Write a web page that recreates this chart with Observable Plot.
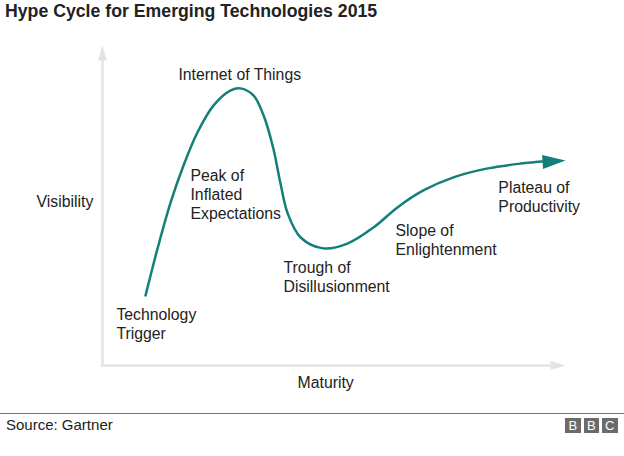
<!DOCTYPE html>
<html>
<head>
<meta charset="utf-8">
<script src="https://cdn.jsdelivr.net/npm/d3@7"></script>
<script src="https://cdn.jsdelivr.net/npm/@observablehq/plot@0.6"></script>
<style>
  html, body { margin: 0; padding: 0; background: #fff; }
  #page { position: relative; width: 624px; height: 456px; overflow: hidden; font-family: "Liberation Sans", Arial, Helvetica, sans-serif; }
  #title { position: absolute; left: 5px; top: 1px; font-size: 17.7px; line-height: 20px; font-weight: bold; color: #222; white-space: nowrap; }
  #chart { position: absolute; left: 0; top: 30px; }
  #rule { position: absolute; left: 0; top: 412.5px; width: 624px; height: 1.2px; background: #777; }
  #source { position: absolute; left: 6px; top: 416px; font-size: 15px; line-height: 17px; color: #222; white-space: nowrap; }
  #bbc { position: absolute; left: 565px; top: 418px; display: flex; gap: 3px; }
  #bbc div { width: 15.5px; height: 14.5px; background: #6b6b6b; color: #fff; font-size: 13px; line-height: 15px; text-align: center; }
</style>
</head>
<body>
<div id="page">
  <div id="title">Hype Cycle for Emerging Technologies 2015</div>
  <div id="chart"></div>
  <div id="rule"></div>
  <div id="source">Source: Gartner</div>
  <div id="bbc"><div>B</div><div>B</div><div>C</div></div>
</div>
<script>
// Hype curve: maturity (0-100) vs visibility (0-100)
const curveMaturity   = [9.3, 11.9, 14.7, 17.5, 20.5, 24.0, 27.6, 29.8, 32.6, 34.8, 36.9, 38.4, 40.0, 42.8, 47.7, 52.9, 58.5, 63.7, 69.3, 75.8, 83.2, 90.3, 95.7];
const curveVisibility = [21.9, 36.6, 50.9, 62.5, 72.8, 81.3, 85.9, 86.6, 84.4, 78.1, 67.8, 57.2, 47.5, 40.0, 36.6, 38.1, 43.1, 49.4, 54.7, 58.8, 61.6, 63.1, 63.8];
const arrowTipMaturity = [100];
const arrowTipVisibility = [64.1];

// Phase labels
const labelText = ["Internet of Things", "Peak of\nInflated\nExpectations", "Technology\nTrigger", "Trough of\nDisillusionment", "Slope of\nEnlightenment", "Plateau of\nProductivity"];
const labelMaturity = [16.4, 19.0, 3.0, 39.1, 63.3, 85.5];
const labelVisibility = [91.25, 53.6, 13.0, 27.9, 39.4, 52.8];

// Axis titles
const axisText = ["Visibility", "Maturity"];
const axisMaturity = [-14.25, 48.2];
const axisVisibility = [51.25, -5.3];
const axisAnchor = ["start", "middle"];

const curve = curveMaturity.map((m, i) => ({m, v: curveVisibility[i]}));
const tip = arrowTipMaturity.map((m, i) => ({m, v: arrowTipVisibility[i]}));
const labels = labelText.map((t, i) => ({t, m: labelMaturity[i], v: labelVisibility[i]}));
const axisLabels = axisText.map((t, i) => ({t, m: axisMaturity[i], v: axisVisibility[i], a: axisAnchor[i]}));

function tri(len, half, angleDeg) {
  const a = angleDeg * Math.PI / 180, c = Math.cos(a), s = Math.sin(a);
  const rot = (x, y) => [x * c - y * s, x * s + y * c];
  return {
    draw(ctx) {
      const p1 = rot(-len, -half), p2 = rot(-len, half);
      ctx.moveTo(0, 0);
      ctx.lineTo(p1[0], p1[1]);
      ctx.lineTo(p2[0], p2[1]);
      ctx.closePath();
    }
  };
}

const axisColor = "#e3e3e3";
const teal = "#137f7a";
const fs = 15.8;

const chart = Plot.plot({
  width: 624,
  height: 372,
  marginLeft: 102,
  marginRight: 59,
  marginTop: 15,
  marginBottom: 37,
  x: {domain: [0, 100], axis: null},
  y: {domain: [0, 100], axis: null},
  style: {fontFamily: '"Liberation Sans", Arial, Helvetica, sans-serif', fontSize: fs + "px", color: "#222", background: "transparent", overflow: "visible"},
  marks: [
    Plot.ruleX([0], {y1: 0, y2: 95.3, stroke: axisColor, strokeWidth: 2.5}),
    Plot.ruleY([0], {x1: -0.3, x2: 96.8, stroke: axisColor, strokeWidth: 2.5}),
    Plot.dot([{m: 0, v: 100}], {x: "m", y: "v", symbol: tri(15, 4.5, -90), fill: axisColor, stroke: "none"}),
    Plot.dot([{m: 100, v: 0}], {x: "m", y: "v", symbol: tri(15, 4.5, 0), fill: axisColor, stroke: "none"}),
    Plot.line(curve, {x: "m", y: "v", curve: "catmull-rom", stroke: teal, strokeWidth: 2.5}),
    Plot.dot(tip, {x: "m", y: "v", symbol: tri(23, 7, -4), fill: teal, stroke: "none"}),
    Plot.text(labels, {x: "m", y: "v", text: "t", textAnchor: "start", lineHeight: 1.2, fontSize: fs, fill: "#222"}),
    Plot.text(axisLabels, {x: "m", y: "v", text: "t", textAnchor: "start", fontSize: fs, fill: "#222", filter: d => d.a === "start"}),
    Plot.text(axisLabels, {x: "m", y: "v", text: "t", textAnchor: "middle", fontSize: fs, fill: "#222", filter: d => d.a === "middle"})
  ]
});
document.getElementById("chart").appendChild(chart);
</script>
</body>
</html>
